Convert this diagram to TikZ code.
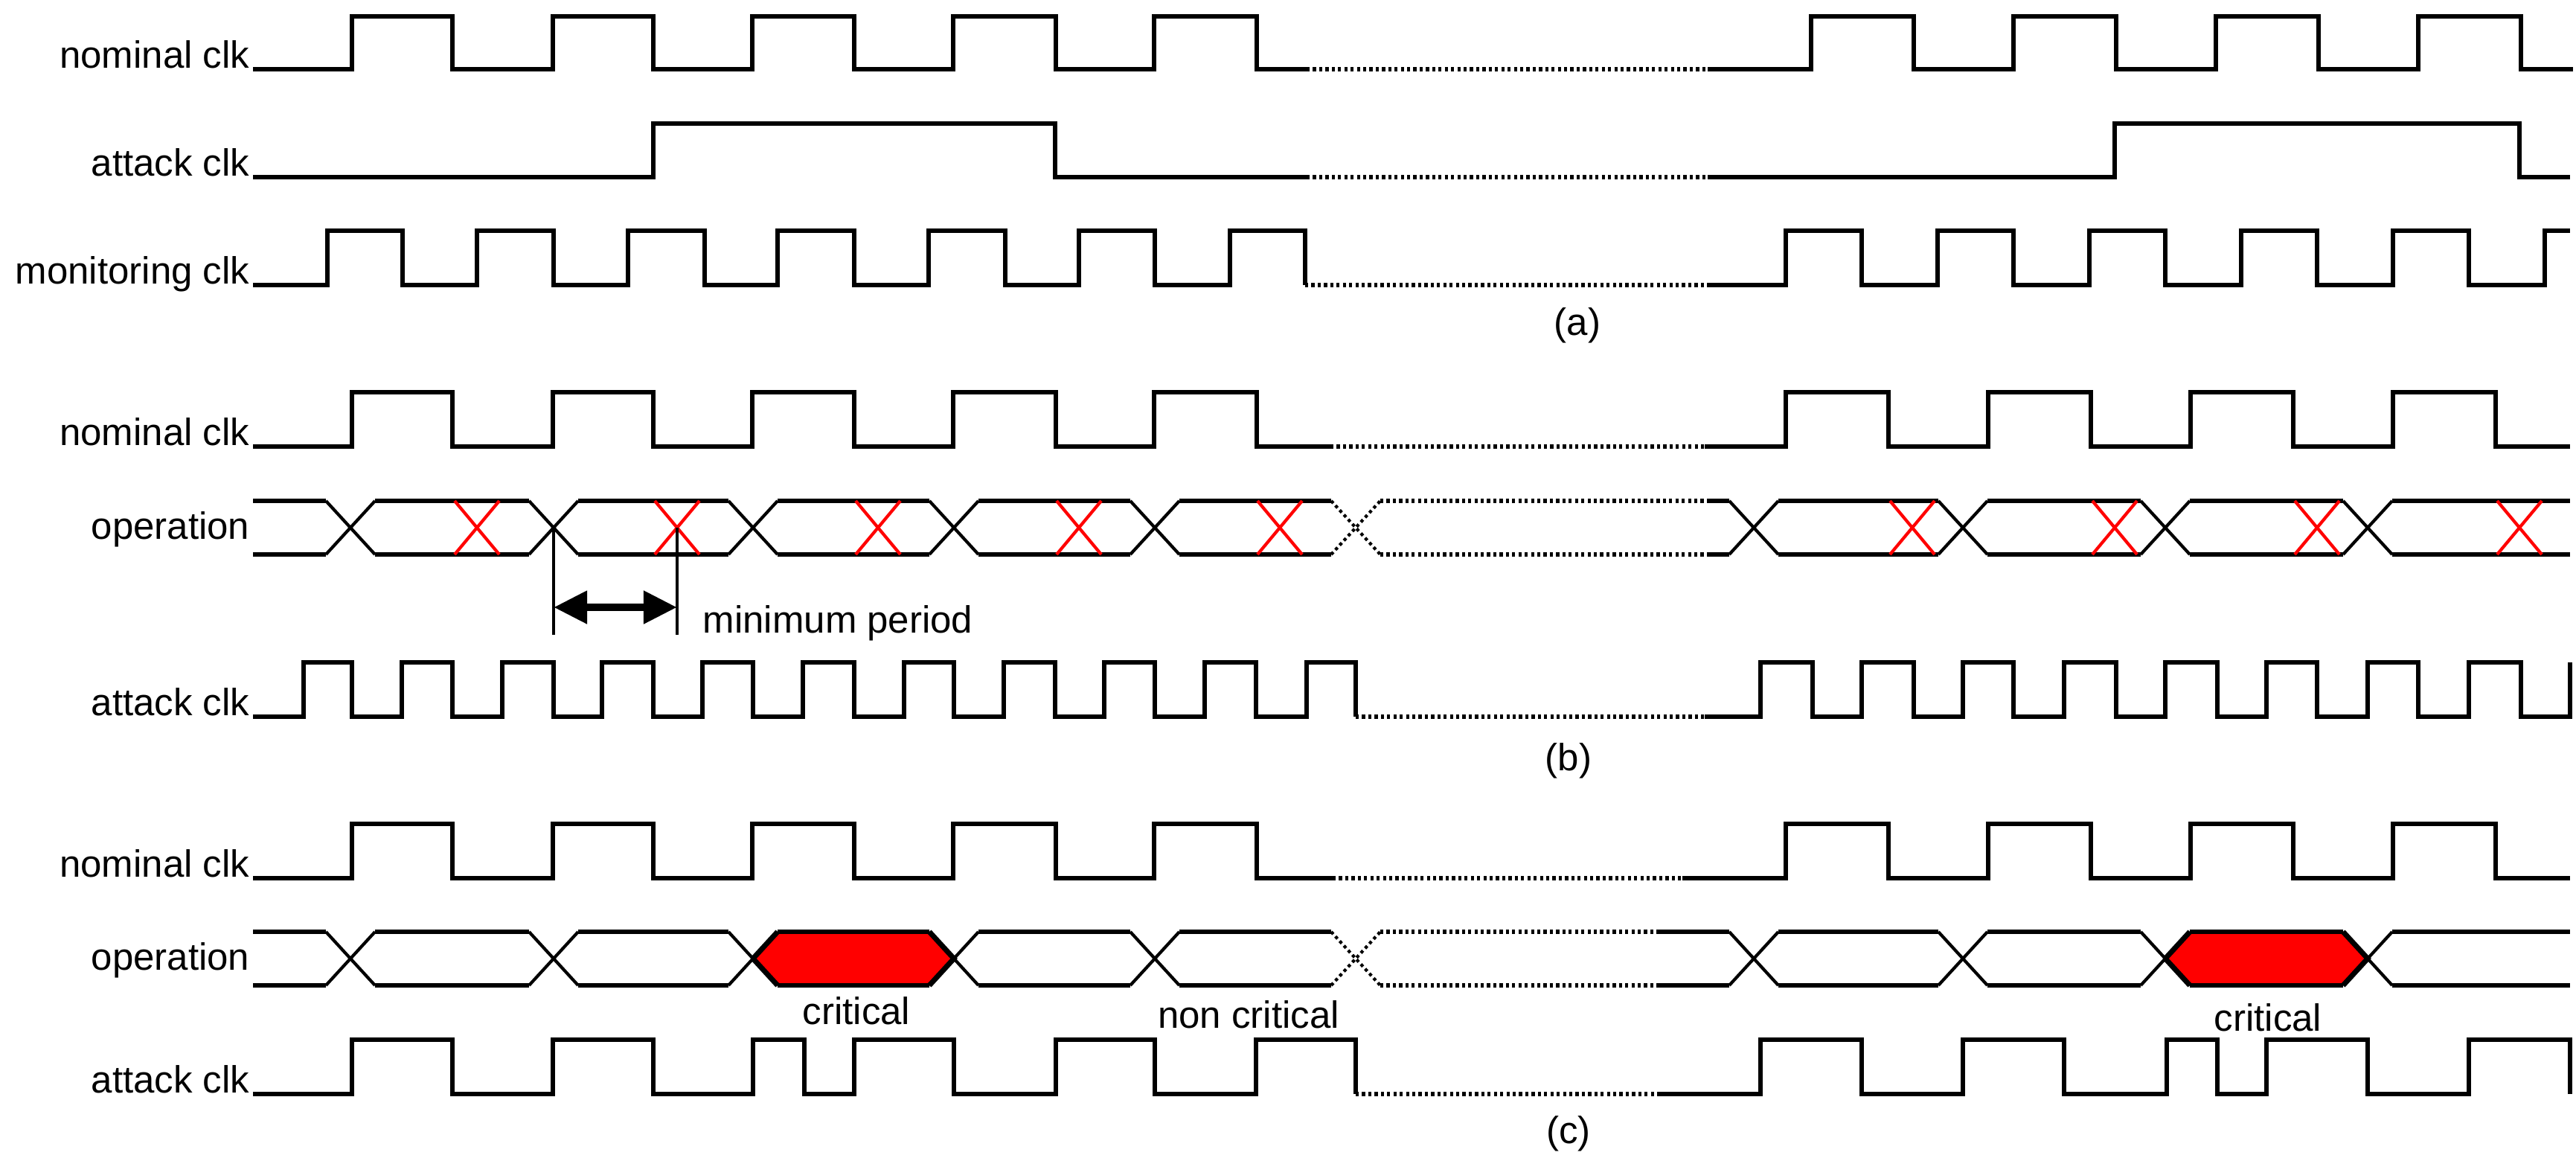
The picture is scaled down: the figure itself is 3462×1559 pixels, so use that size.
\documentclass[tikz,border=0pt]{standalone}
\usepackage{fontspec}
\setmainfont{Liberation Sans}
\usetikzlibrary{arrows.meta}
\begin{document}
\begin{tikzpicture}[x=0.01cm,y=-0.01cm,
  sig/.style={line width=1.5pt,line join=miter},
  dot/.style={line width=1.5pt,dash pattern=on 1.2pt off 1.2pt},
  rx/.style={red,line width=1.2pt},
  lbl/.style={font=\fontsize{14.5}{16}\selectfont,inner sep=0pt},
  txt/.style={font=\fontsize{14.5}{16}\selectfont,inner sep=0pt}]
\useasboundingbox (0,0) rectangle (3462,1559);
% labels
\node[lbl,anchor=base east] (la1) at (336,91) {nominal clk};
\node[lbl,anchor=base east] (la2) at (336,236) {attack clk};
\node[lbl,anchor=base east] (la3) at (336,381) {monitoring clk};
\node[lbl,anchor=base east] (lb1) at (336,598) {nominal clk};
\node[lbl,anchor=base east] (lb2) at (336,724) {operation};
\node[lbl,anchor=base east] (lb3) at (336,961) {attack clk};
\node[lbl,anchor=base east] (lc1) at (336,1178) {nominal clk};
\node[lbl,anchor=base east] (lc2) at (336,1303) {operation};
\node[lbl,anchor=base east] (lc3) at (336,1468) {attack clk};
\node[txt] (ca) at (2120,437) {(a)};
\node[txt] (cb) at (2108,1022) {(b)};
\node[txt] (cc) at (2108,1523) {(c)};
\node[txt] (cr1) at (1151,1358) {critical};
\node[txt] (ncr) at (1678,1363) {non critical};
\node[txt] (cr2) at (3048,1367) {critical};
\node[txt,anchor=west] (mp) at (944,837) {minimum period};

% ---------- panel (a)
\draw[sig] (340,93) -| (473,22) -| (608,93) -| (743,22) -| (878,93) -| (1011,22) -| (1148,93) -| (1281,22) -| (1419,93) -| (1551,22) -| (1689,93) -- (1756,93);
\draw[dot] (1756,93) -- (2295,93);
\draw[sig] (2295,93) -| (2434,22) -| (2572,93) -| (2706,22) -| (2844,93) -| (2978,22) -| (3116,93) -| (3250,22) -| (3388,93) -- (3458,93);

\draw[sig] (340,238) -| (878,166) -| (1418,238) -- (1756,238);
\draw[dot] (1756,238) -- (2295,238);
\draw[sig] (2295,238) -| (2842,166) -| (3386,238) -- (3454,238);

\draw[sig] (340,383) -| (440,310) -| (541,383) -| (641,310) -| (744,383) -| (844,310) -| (947,383) -| (1045,310) -| (1148,383) -| (1248,310) -| (1351,383) -| (1450,310) -| (1552,383) -| (1653,310) -| (1754,383);
\draw[dot] (1754,383) -- (2295,383);
\draw[sig] (2295,383) -| (2400,310) -| (2502,383) -| (2604,310) -| (2706,383) -| (2808,310) -| (2910,383) -| (3012,310) -| (3114,383) -| (3216,310) -| (3318,383) -| (3420,310) -- (3454,310);

% ---------- panel (b)
\draw[sig] (340,600) -| (473,527) -| (608,600) -| (743,527) -| (878,600) -| (1011,527) -| (1148,600) -| (1281,527) -| (1419,600) -| (1551,527) -| (1689,600) -- (1788,600);
\draw[dot] (1788,600) -- (2291,600);
\draw[sig] (2291,600) -| (2400,527) -| (2538,600) -| (2672,527) -| (2810,600) -| (2944,527) -| (3082,600) -| (3216,527) -| (3354,600) -- (3454,600);

% operation (b)
\foreach \a/\b in {340/438,504/711,777/979,1045/1249,1315/1519,1585/1789,2295/2324,2390/2605,2671/2877,2943/3149,3215/3454}
  {\draw[sig] (\a,673) -- (\b,673); \draw[sig] (\a,745) -- (\b,745);}
\foreach \c in {471,744,1012,1282,1552,2357,2638,2910,3182}
  {\draw[line width=1.2pt] (\c-33,673) -- (\c+33,745); \draw[line width=1.2pt] (\c-33,745) -- (\c+33,673);}
\draw[dot,line width=1.2pt] (1789,673) -- (1855,745);
\draw[dot,line width=1.2pt] (1789,745) -- (1855,673);
\draw[dot] (1855,673) -- (2295,673);
\draw[dot] (1855,745) -- (2295,745);
\foreach \c in {641,910,1180,1450,1720,2570,2842,3114,3386}
  {\draw[rx] (\c-30,673) -- (\c+30,745); \draw[rx] (\c-30,745) -- (\c+30,673);}
% minimum period
\coordinate (m1) at (744,709); \coordinate (m1b) at (744,853);
\coordinate (m2) at (910,709); \coordinate (m2b) at (910,853);
\draw[line width=1pt] (m1) -- (m1b);
\draw[line width=1pt] (m2) -- (m2b);
\coordinate (a1) at (744,816); \coordinate (a2) at (910,816);
\draw[line width=3pt,{Triangle[length=0.45cm,width=0.42cm]}-{Triangle[length=0.45cm,width=0.42cm]}] (a1) -- (a2);

% attack (b)
\draw[sig] (340,963) -| (408,890) -| (473,963) -| (540,890) -| (608,963) -| (675,890) -| (744,963) -| (809,890) -| (878,963) -| (944,890) -| (1012,963) -| (1079,890) -| (1148,963) -| (1215,890) -| (1282,963) -| (1349,890) -| (1418,963) -| (1484,890) -| (1552,963) -| (1619,890) -| (1688,963) -| (1756,890) -| (1822,963);
\draw[dot] (1822,963) -- (2291,963);
\draw[sig] (2291,963) -| (2366,890) -| (2436,963) -| (2502,890) -| (2572,963) -| (2638,890) -| (2706,963) -| (2774,890) -| (2844,963) -| (2910,890) -| (2980,963) -| (3046,890) -| (3114,963) -| (3182,890) -| (3250,963) -| (3318,890) -| (3388,963) -- (3454,963) -- (3454,890);

% ---------- panel (c)
\draw[sig] (340,1180) -| (473,1107) -| (608,1180) -| (743,1107) -| (878,1180) -| (1011,1107) -| (1148,1180) -| (1281,1107) -| (1419,1180) -| (1551,1107) -| (1689,1180) -- (1791,1180);
\draw[dot] (1791,1180) -- (2261,1180);
\draw[sig] (2261,1180) -| (2400,1107) -| (2538,1180) -| (2672,1107) -| (2810,1180) -| (2944,1107) -| (3082,1180) -| (3216,1107) -| (3354,1180) -- (3454,1180);

% operation (c)
\fill[red] (1012,1288) -- (1045,1252) -- (1249,1252) -- (1282,1288) -- (1249,1324) -- (1045,1324) -- cycle;
\fill[red] (2910,1288) -- (2943,1252) -- (3149,1252) -- (3182,1288) -- (3149,1324) -- (2943,1324) -- cycle;
\foreach \a/\b in {340/438,504/711,777/979,1045/1249,1315/1519,1585/1789,2227/2324,2390/2605,2671/2877,2943/3149,3215/3454}
  {\draw[sig] (\a,1252) -- (\b,1252); \draw[sig] (\a,1324) -- (\b,1324);}
\foreach \c in {471,744,1012,1282,1552,2357,2638,2910,3182}
  {\draw[line width=1.2pt] (\c-33,1252) -- (\c+33,1324); \draw[line width=1.2pt] (\c-33,1324) -- (\c+33,1252);}
\draw[line width=2pt] (1012,1288) -- (1045,1252) (1249,1252) -- (1282,1288) -- (1249,1324) (1045,1324) -- (1012,1288);
\draw[line width=2pt] (2910,1288) -- (2943,1252) (3149,1252) -- (3182,1288) -- (3149,1324) (2943,1324) -- (2910,1288);
\draw[dot,line width=1.2pt] (1789,1252) -- (1855,1324);
\draw[dot,line width=1.2pt] (1789,1324) -- (1855,1252);
\draw[dot] (1855,1252) -- (2227,1252);
\draw[dot] (1855,1324) -- (2227,1324);

% attack (c)
\draw[sig] (340,1470) -| (473,1397) -| (608,1470) -| (743,1397) -| (878,1470) -| (1012,1397) -| (1081,1470) -| (1148,1397) -| (1282,1470) -| (1419,1397) -| (1552,1470) -| (1688,1397) -| (1822,1470);
\draw[dot] (1822,1470) -- (2230,1470);
\draw[sig] (2230,1470) -| (2366,1397) -| (2502,1470) -| (2638,1397) -| (2774,1470) -| (2912,1397) -| (2980,1470) -| (3046,1397) -| (3182,1470) -| (3318,1397) -- (3454,1397) -- (3454,1470);
\end{tikzpicture}
\end{document}
